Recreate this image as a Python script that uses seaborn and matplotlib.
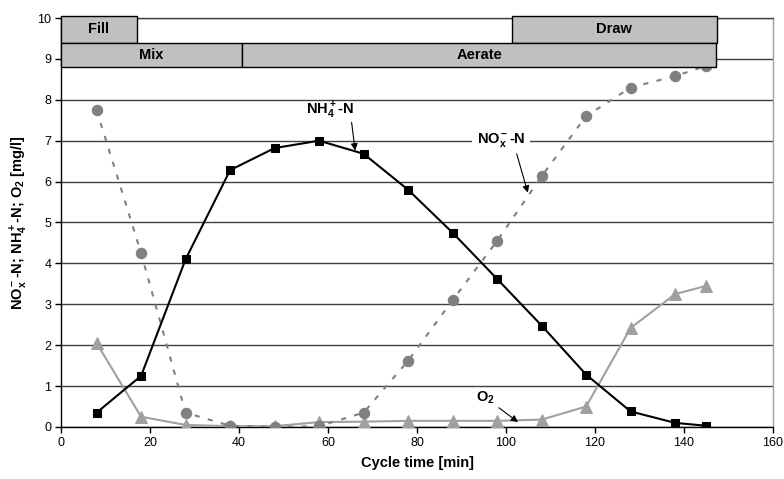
import matplotlib
matplotlib.use("Agg")
import matplotlib.pyplot as plt
import seaborn as sns
import pandas as pd

time_min = [8, 18, 28, 38, 48, 58, 68, 78, 88, 98, 108, 118, 128, 138, 145]
nh4 = [0.35, 1.25, 4.1, 6.28, 6.82, 7.0, 6.68, 5.8, 4.75, 3.62, 2.48, 1.28, 0.38, 0.1, 0.03]
nox = [7.75, 4.25, 0.35, 0.03, 0.0, 0.02, 0.35, 1.62, 3.1, 4.55, 6.13, 7.6, 8.3, 8.58, 8.83]
o2 = [2.05, 0.25, 0.05, 0.02, 0.02, 0.12, 0.13, 0.15, 0.15, 0.15, 0.18, 0.5, 2.42, 3.25, 3.45]

phase_names = ["Fill", "Draw", "Mix", "Aerate"]
phase_start = [0, 101.3, 0, 40.7]
phase_end = [17, 147.4, 40.7, 147.2]
phase_low = [9.4, 9.4, 8.8, 8.8]
phase_high = [10.05, 10.05, 9.4, 9.4]

labels = [r"NH$_4^+$-N", r"NO$_x^-$-N", r"O$_2$"]
label_pos = [(60.4, 7.73), (98.9, 7.02), (95.3, 0.72)]
arrow_tail = [(65.3, 7.45), (102.4, 6.68), (98.4, 0.47)]
arrow_head = [(66.1, 6.76), (104.9, 5.73), (102.7, 0.12)]

sns.set_style("white")
plt.rcParams["font.family"] = ["Liberation Sans", "DejaVu Sans"]
plt.rcParams["text.color"] = "black"
plt.rcParams["axes.labelcolor"] = "black"
plt.rcParams["xtick.color"] = "black"
plt.rcParams["ytick.color"] = "black"
plt.rcParams["mathtext.fontset"] = "custom"
plt.rcParams["mathtext.rm"] = "Liberation Sans:bold"
plt.rcParams["mathtext.it"] = "Liberation Sans:bold"
plt.rcParams["mathtext.bf"] = "Liberation Sans:bold"

fig = plt.figure(figsize=(7.84, 4.79), dpi=100)
ax = fig.add_axes([0.0778, 0.1086, 0.9082, 0.8538])

df = pd.DataFrame({"t": time_min, "nh4": nh4, "nox": nox, "o2": o2})

sns.lineplot(data=df, x="t", y="o2", ax=ax, color="#a0a0a0", lw=1.5,
             marker="^", markersize=8, markeredgecolor="#a0a0a0", zorder=3)
sns.lineplot(data=df, x="t", y="nox", ax=ax, color="#808080", lw=1.5,
             linestyle=(0, (2.5, 4)), marker="o", markersize=7.5,
             markeredgecolor="#808080", zorder=4)
sns.lineplot(data=df, x="t", y="nh4", ax=ax, color="black", lw=1.5,
             marker="s", markersize=5.5, markeredgecolor="black", zorder=5)

ax.set_xlim(0, 160)
ax.set_ylim(0, 10)
ax.set_xticks(range(0, 161, 20))
ax.set_yticks(range(0, 11))
ax.tick_params(axis="both", labelsize=9, length=4, width=1, direction="out",
               bottom=True, left=True, pad=3, colors="black")
ax.grid(axis="y", color="#404040", lw=1, zorder=1)
ax.grid(axis="x", visible=False)
ax.set_axisbelow(True)
for s in ["left", "bottom", "top"]:
    ax.spines[s].set_color("black")
    ax.spines[s].set_linewidth(1)
ax.spines["top"].set_color("#404040")
ax.spines["right"].set_color("#a0a0a0")
ax.spines["right"].set_linewidth(1)

ax.set_xlabel("Cycle time [min]", fontsize=10.5, fontweight="bold", labelpad=5)
ax.set_ylabel(r"NO$_x^-$-N; NH$_4^+$-N; O$_2$ [mg/l]", fontsize=10.5,
              fontweight="bold")
ax.yaxis.set_label_coords(-0.043, 0.5)

for name, a, b, lo, hi in zip(phase_names, phase_start, phase_end, phase_low, phase_high):
    ax.bar(x=a, height=hi - lo, width=b - a, bottom=lo, align="edge",
           color="#c0c0c0", edgecolor="black", lw=1, zorder=10, clip_on=False)
    ax.text((a + b) / 2, (lo + hi) / 2, name, ha="center", va="center",
            fontsize=10.5, fontweight="bold", zorder=11)

for i, (lab, pos, tail, head) in enumerate(zip(labels, label_pos, arrow_tail, arrow_head)):
    kw = {}
    if i == 1:
        kw["bbox"] = dict(boxstyle="square,pad=0.3", fc="white", ec="none")
    ax.text(pos[0], pos[1], lab, ha="center", va="center", fontsize=10.5,
            fontweight="bold", zorder=8, **kw)
    ax.annotate("", xy=head, xytext=tail,
                arrowprops=dict(arrowstyle="-|>", color="black", lw=0.8,
                                shrinkA=0, shrinkB=0, mutation_scale=10), zorder=8)

fig.savefig("out.png", dpi=100)
